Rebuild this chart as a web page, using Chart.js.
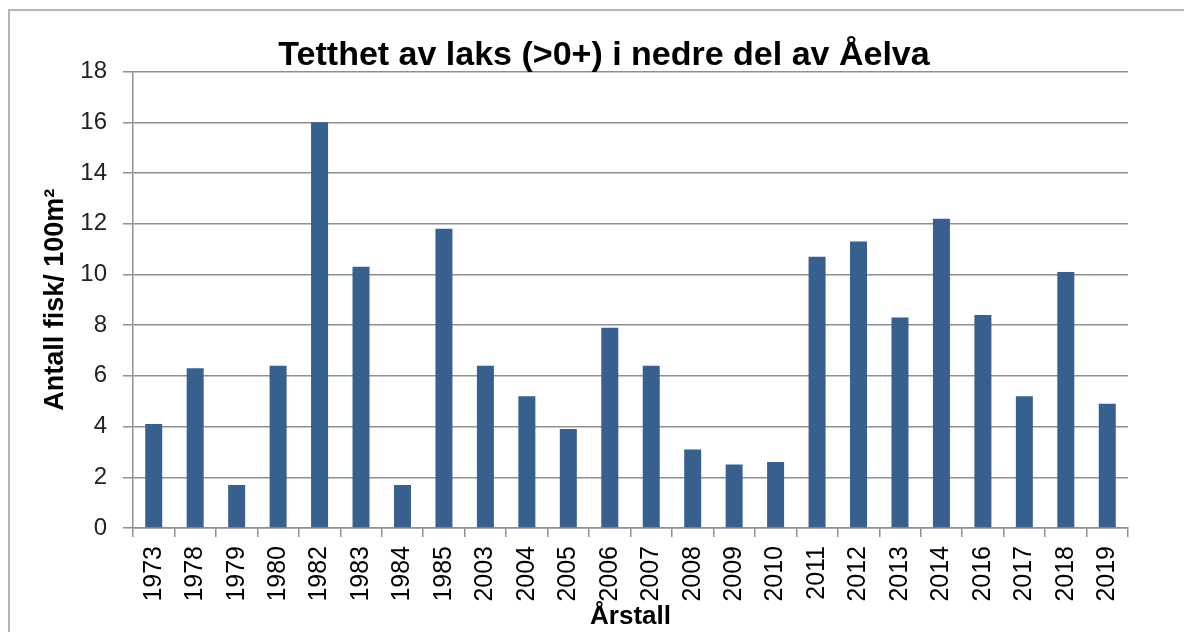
<!DOCTYPE html>
<html>
<head>
<meta charset="utf-8">
<script src="https://cdn.jsdelivr.net/npm/chart.js@4"></script>
<style>
  html, body { margin: 0; padding: 0; background: #fff; }
  #frame { position: absolute; left: 8px; top: 9px; width: 1200px; height: 660px; border: 2px solid #b4b4b4; }
  #wrap { position: absolute; left: 0; top: 0; width: 1184px; height: 632px; }
</style>
</head>
<body>
<div id="frame"></div>
<div id="wrap"><canvas id="myChart" width="1184" height="632"></canvas></div>
<script>
// årstall og tetthet (antall fisk per 100 m2)
const aar = ['1973', '1978', '1979', '1980', '1982', '1983', '1984', '1985', '2003', '2004', '2005', '2006',
  '2007', '2008', '2009', '2010', '2011', '2012', '2013', '2014', '2016', '2017', '2018', '2019'];
const tetthet = [4.1, 6.3, 1.7, 6.4, 16.0, 10.3, 1.7, 11.8, 6.4, 5.2, 3.9, 7.9,
  6.4, 3.1, 2.5, 2.6, 10.7, 11.3, 8.3, 12.2, 8.4, 5.2, 10.1, 4.9];
const yTicks = [0, 2, 4, 6, 8, 10, 12, 14, 16, 18];

const fontFam = "'Liberation Sans', Arial, sans-serif";
const gridFarge = '#8f8f8f';

const ctx = document.getElementById('myChart');
new Chart(ctx, {
  type: 'bar',
  data: {
    labels: aar,
    datasets: [{
      label: 'Tetthet',
      data: tetthet,
      backgroundColor: '#37608f',
      borderWidth: 0,
      barPercentage: 0.41,
      categoryPercentage: 1
    }]
  },
  options: {
    responsive: false,
    animation: false,
    layout: { padding: { top: 40, left: 80, right: 56, bottom: 0 } },
    plugins: {
      legend: { display: false },
      tooltip: { enabled: false },
      title: {
        display: true,
        text: 'Tetthet av laks (>0+) i nedre del av Åelva',
        color: '#000',
        font: { family: fontFam, size: 34, weight: 'bold', lineHeight: 0.9 },
        padding: { top: 0, bottom: 1 }
      }
    },
    scales: {
      x: {
        offset: true,
        grid: { offset: true, drawOnChartArea: false, drawTicks: true, tickLength: 9, color: gridFarge, lineWidth: 1.5 },
        border: { color: gridFarge, width: 1.5 },
        ticks: { color: '#000', font: { family: fontFam, size: 25 }, minRotation: 90, maxRotation: 90, padding: 9, autoSkip: false },
        title: { display: true, text: 'Årstall', color: '#000', font: { family: fontFam, size: 26, weight: 'bold' }, padding: { top: 0, bottom: 0 } },
        afterFit: s => { s.height = 104; }
      },
      y: {
        min: 0,
        max: 18,
        afterBuildTicks: s => { s.ticks = yTicks.map(v => ({ value: v })); },
        grid: { color: gridFarge, lineWidth: 1.5, tickLength: 10 },
        border: { color: gridFarge, width: 1.5 },
        ticks: { color: '#222', font: { family: fontFam, size: 24 }, padding: 16 },
        title: { display: true, text: 'Antall fisk/ 100m²', color: '#000', font: { family: fontFam, size: 27, weight: 'bold' }, padding: { top: -41, bottom: 0 } },
        afterFit: s => { s.width = 53; }
      }
    }
  }
});
</script>
</body>
</html>
